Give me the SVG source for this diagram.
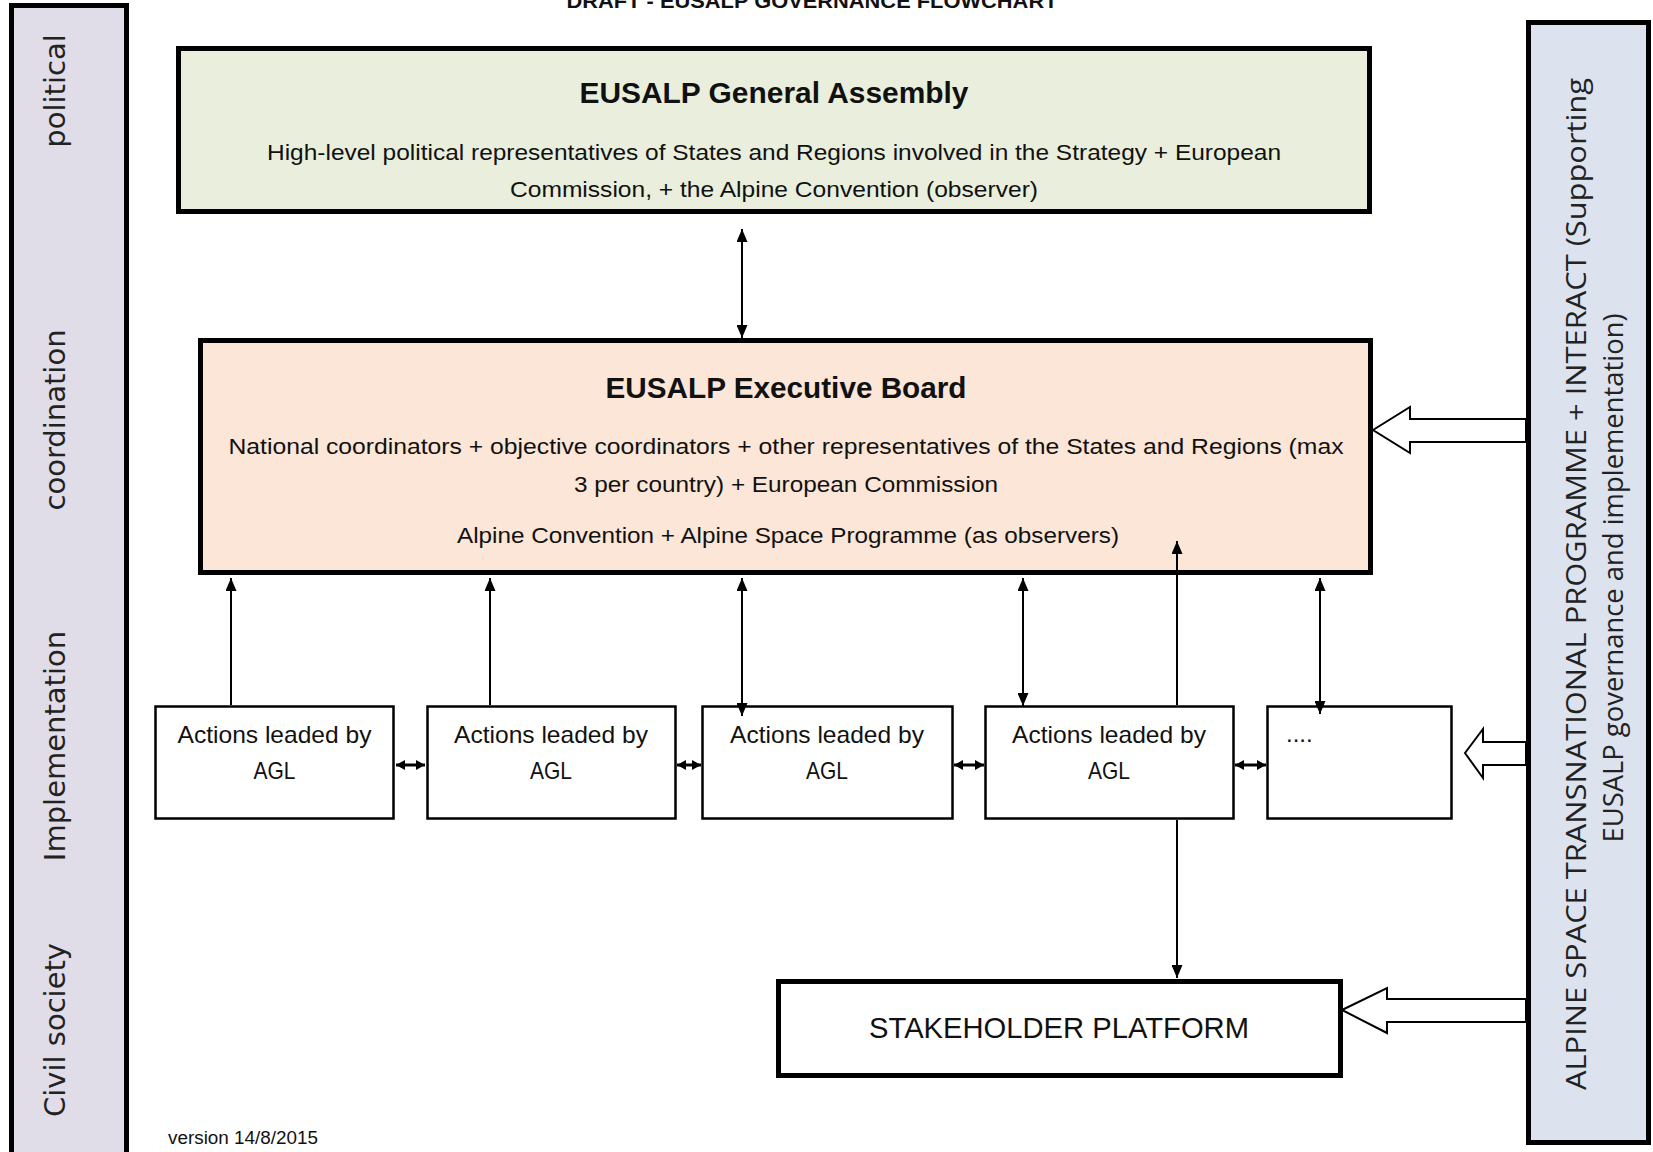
<svg xmlns="http://www.w3.org/2000/svg" width="1653" height="1152" viewBox="0 0 1653 1152">
  <style>
    .sans { font-family: "Liberation Sans", Arial, sans-serif; fill: #111; }
    .bold { font-weight: bold; }
    .lab { font-family: "DejaVu Sans", Verdana, sans-serif; font-size: 29px; fill: #222; }
    .side { font-family: "Open Sans", "Noto Sans", sans-serif; font-size: 28px; fill: #222; }
    .thick { stroke: #000; stroke-width: 5; }
    .thin { stroke: #000; stroke-width: 2.5; fill: #fff; }
    .conn { stroke: #000; stroke-width: 2; fill: none; }
    .hconn { stroke: #000; stroke-width: 3; fill: none; }
    .block { fill: #fff; stroke: #000; stroke-width: 2; }
  </style>
  <defs>
    <marker id="ah" viewBox="0 0 13 11" refX="13" refY="5.5" markerWidth="13" markerHeight="11" markerUnits="userSpaceOnUse" orient="auto-start-reverse">
      <path d="M0,0 L13,5.5 L0,11 z" fill="#000"/>
    </marker>
    <marker id="ahs" viewBox="0 0 9 10" refX="9" refY="5" markerWidth="9" markerHeight="10" markerUnits="userSpaceOnUse" orient="auto-start-reverse">
      <path d="M0,0 L9,5 L0,10 z" fill="#000"/>
    </marker>
  </defs>
  <rect width="1653" height="1152" fill="#fff"/>

  <text class="sans bold" x="812" y="8" font-size="20" text-anchor="middle" textLength="491" lengthAdjust="spacingAndGlyphs">DRAFT - EUSALP GOVERNANCE FLOWCHART</text>

  <g id="lane-labels">
    <rect x="11.5" y="5.5" width="115" height="1160" fill="#e0dde9" class="thick"/>
    <text class="lab" transform="translate(65,91) rotate(-90)" text-anchor="middle">political</text>
    <text class="lab" transform="translate(65,420) rotate(-90)" text-anchor="middle">coordination</text>
    <text class="lab" transform="translate(65,746) rotate(-90)" text-anchor="middle">Implementation</text>
    <text class="lab" transform="translate(65,1030) rotate(-90)" text-anchor="middle">Civil society</text>
  </g>

  <g id="support-panel">
    <rect x="1528.5" y="22.5" width="120" height="1120" fill="#dce3ee" class="thick"/>
    <text class="side" transform="translate(1586,584) rotate(-90)" text-anchor="middle" textLength="1012" lengthAdjust="spacingAndGlyphs">ALPINE SPACE TRANSNATIONAL PROGRAMME + INTERACT (Supporting</text>
    <text class="side" transform="translate(1623,578) rotate(-90)" text-anchor="middle" textLength="529" lengthAdjust="spacingAndGlyphs">EUSALP governance and implementation)</text>
  </g>

  <g id="general-assembly">
    <rect x="178.5" y="48.5" width="1191" height="163" fill="#e9efdc" class="thick"/>
    <text class="sans bold" x="774" y="103" font-size="29" text-anchor="middle" textLength="389" lengthAdjust="spacingAndGlyphs">EUSALP General Assembly</text>
    <text class="sans" x="774" y="160" font-size="21.5" text-anchor="middle" textLength="1014" lengthAdjust="spacingAndGlyphs">High-level political representatives of States and Regions involved in the Strategy + European</text>
    <text class="sans" x="774" y="197" font-size="21.5" text-anchor="middle" textLength="528" lengthAdjust="spacingAndGlyphs">Commission, + the Alpine Convention (observer)</text>
  </g>

  <g id="executive-board">
    <rect x="200.5" y="340.5" width="1170" height="232" fill="#fbe6d7" class="thick"/>
    <text class="sans bold" x="786" y="398" font-size="29" text-anchor="middle" textLength="361" lengthAdjust="spacingAndGlyphs">EUSALP Executive Board</text>
    <text class="sans" x="786" y="454" font-size="21.5" text-anchor="middle" textLength="1115" lengthAdjust="spacingAndGlyphs">National coordinators + objective coordinators + other representatives of the States and Regions (max</text>
    <text class="sans" x="786" y="492" font-size="21.5" text-anchor="middle" textLength="424" lengthAdjust="spacingAndGlyphs">3 per country) + European Commission</text>
    <text class="sans" x="788" y="543" font-size="21.5" text-anchor="middle" textLength="662" lengthAdjust="spacingAndGlyphs">Alpine Convention + Alpine Space Programme (as observers)</text>
  </g>

  <g id="action-1">
    <rect x="155.5" y="706.5" width="238" height="112" class="thin"/>
    <text class="sans" x="274.5" y="743" font-size="24" text-anchor="middle" textLength="194" lengthAdjust="spacingAndGlyphs">Actions leaded by</text>
    <text class="sans" x="274.5" y="779" font-size="24" text-anchor="middle" textLength="42" lengthAdjust="spacingAndGlyphs">AGL</text>
  </g>
  <g id="action-2">
    <rect x="427.5" y="706.5" width="248" height="112" class="thin"/>
    <text class="sans" x="551" y="743" font-size="24" text-anchor="middle" textLength="194" lengthAdjust="spacingAndGlyphs">Actions leaded by</text>
    <text class="sans" x="551" y="779" font-size="24" text-anchor="middle" textLength="42" lengthAdjust="spacingAndGlyphs">AGL</text>
  </g>
  <g id="action-3">
    <rect x="702.5" y="706.5" width="250" height="112" class="thin"/>
    <text class="sans" x="827" y="743" font-size="24" text-anchor="middle" textLength="194" lengthAdjust="spacingAndGlyphs">Actions leaded by</text>
    <text class="sans" x="827" y="779" font-size="24" text-anchor="middle" textLength="42" lengthAdjust="spacingAndGlyphs">AGL</text>
  </g>
  <g id="action-4">
    <rect x="985.5" y="706.5" width="248" height="112" class="thin"/>
    <text class="sans" x="1109" y="743" font-size="24" text-anchor="middle" textLength="194" lengthAdjust="spacingAndGlyphs">Actions leaded by</text>
    <text class="sans" x="1109" y="779" font-size="24" text-anchor="middle" textLength="42" lengthAdjust="spacingAndGlyphs">AGL</text>
  </g>
  <g id="action-more">
    <rect x="1267.5" y="706.5" width="184" height="112" class="thin"/>
    <text class="sans" x="1286" y="742" font-size="24">....</text>
  </g>

  <g id="stakeholder-platform">
    <rect x="778.5" y="981.5" width="562" height="94" fill="#fff" class="thick"/>
    <text class="sans" x="1059" y="1038" font-size="29" text-anchor="middle" textLength="380" lengthAdjust="spacingAndGlyphs">STAKEHOLDER PLATFORM</text>
  </g>

  <text class="sans" x="168" y="1144" font-size="17.5" textLength="150" lengthAdjust="spacingAndGlyphs">version 14/8/2015</text>

  <g id="connectors">
    <line class="conn" x1="742" y1="229" x2="742" y2="338" marker-start="url(#ah)" marker-end="url(#ah)"/>
    <line class="conn" x1="231" y1="578" x2="231" y2="705" marker-start="url(#ah)"/>
    <line class="conn" x1="490" y1="578" x2="490" y2="705" marker-start="url(#ah)"/>
    <line class="conn" x1="742" y1="578" x2="742" y2="716" marker-start="url(#ah)" marker-end="url(#ah)"/>
    <line class="conn" x1="1023" y1="578" x2="1023" y2="706" marker-start="url(#ah)" marker-end="url(#ah)"/>
    <line class="conn" x1="1320" y1="578" x2="1320" y2="714" marker-start="url(#ah)" marker-end="url(#ah)"/>
    <line class="conn" x1="1177" y1="705" x2="1177" y2="541" marker-end="url(#ah)"/>
    <line class="conn" x1="1177" y1="820" x2="1177" y2="978" marker-end="url(#ah)"/>
    <line class="hconn" x1="396" y1="765" x2="425" y2="765" marker-start="url(#ahs)" marker-end="url(#ahs)"/>
    <line class="hconn" x1="677" y1="765" x2="701" y2="765" marker-start="url(#ahs)" marker-end="url(#ahs)"/>
    <line class="hconn" x1="954" y1="765" x2="984" y2="765" marker-start="url(#ahs)" marker-end="url(#ahs)"/>
    <line class="hconn" x1="1235" y1="765" x2="1266" y2="765" marker-start="url(#ahs)" marker-end="url(#ahs)"/>
    <polygon class="block" points="1373,430 1410,407 1410,419 1526,419 1526,442 1410,442 1410,453"/>
    <polygon class="block" points="1465,753 1483,729 1483,742 1526,742 1526,765 1483,765 1483,778"/>
    <polygon class="block" points="1342,1010 1387,988 1387,999 1526,999 1526,1022 1387,1022 1387,1033"/>
  </g>
</svg>
